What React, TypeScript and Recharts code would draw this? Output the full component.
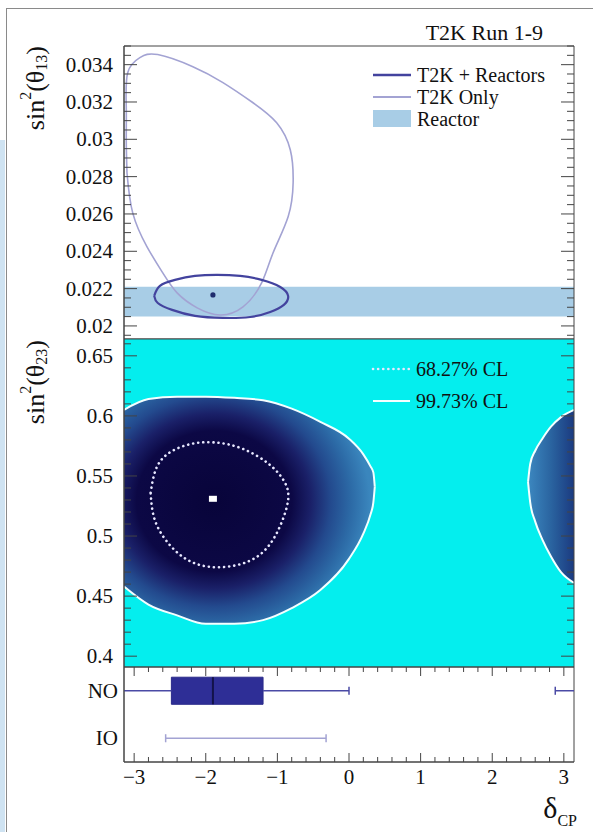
import React from "react"
import {
  ComposedChart,
  Line,
  Area,
  Scatter,
  XAxis,
  YAxis,
  CartesianGrid,
  ReferenceLine,
  ReferenceArea,
} from "recharts"

const PI = Math.PI
const FONT = '"Liberation Serif", "Times New Roman", serif'

// delta_CP axis (shared by the three pads)
const deltaTicks = [-3, -2, -1, 0, 1, 2, 3]

// top pad: sin^2(theta13)
const th13Ticks = [0.02, 0.022, 0.024, 0.026, 0.028, 0.03, 0.032, 0.034]
const t2kOnlyDelta = [-3.1, -3.02, -2.82, -2.6, -2.4, -2.12, -1.8, -1.48, -1.22, -1.06, -0.85, -0.78, -0.82, -1.01, -1.34, -1.76, -2.18, -2.67, -2.92, -3.09, -3.11, -3.11, -3.1]
const t2kOnlyTh13 = [0.02821, 0.02606, 0.02424, 0.02284, 0.02177, 0.02097, 0.02059, 0.02102, 0.02231, 0.02392, 0.02585, 0.02767, 0.02944, 0.03089, 0.03196, 0.03304, 0.03389, 0.03454, 0.03438, 0.03357, 0.03175, 0.02998, 0.02821]
const combinedDelta = [-2.72, -2.64, -2.43, -2.15, -1.84, -1.52, -1.22, -0.96, -0.85, -0.91, -1.1, -1.38, -1.76, -2.15, -2.47, -2.67, -2.72]
const combinedTh13 = [0.02161, 0.02215, 0.02247, 0.02268, 0.02274, 0.02268, 0.02247, 0.02209, 0.02161, 0.02113, 0.02075, 0.02048, 0.02043, 0.02054, 0.02086, 0.02123, 0.02161]
const bestFit13 = [{ x: -1.9, y: 0.02166 }]
const reactorBand = [0.0205, 0.0221]

// middle pad: sin^2(theta23)
const th23Ticks = [0.4, 0.45, 0.5, 0.55, 0.6, 0.65]
const blobDelta = [-3.1416, -2.8, -2.4, -2.0, -1.6, -1.2, -0.8, -0.4, 0.0, 0.2, 0.3, 0.34, 0.36]
const blobHigh = [0.605, 0.614, 0.616, 0.616, 0.615, 0.613, 0.606, 0.595, 0.581, 0.568, 0.558, 0.553, 0.541]
const blobLow = [0.458, 0.443, 0.434, 0.427, 0.427, 0.43, 0.44, 0.455, 0.481, 0.502, 0.518, 0.528, 0.541]
const wrapDelta = [2.5, 2.53, 2.6, 2.7, 2.82, 2.96, 3.1416]
const wrapHigh = [0.545, 0.56, 0.571, 0.581, 0.591, 0.599, 0.605]
const wrapLow = [0.545, 0.528, 0.512, 0.497, 0.483, 0.47, 0.461]
const cl68Delta = [-2.77, -2.7, -2.54, -2.25, -1.9, -1.5, -1.12, -0.9, -0.85, -0.95, -1.12, -1.4, -1.84, -2.25, -2.55, -2.72, -2.77]
const cl68Th23 = [0.536, 0.555, 0.568, 0.576, 0.578, 0.573, 0.56, 0.545, 0.53, 0.51, 0.492, 0.479, 0.474, 0.48, 0.496, 0.515, 0.536]
const bestFit23 = [{ x: -1.9, y: 0.531 }]

// bottom pad: 1D intervals per mass ordering
const orderLabels = ["NO", "IO"]
const orderPos = [1.5, 0.5]
const noBox = [-2.48, -1.9, -1.2] // q1, median, q3
const noWhisker = [-PI, 0.0]
const noWrap = [2.88, PI]
const ioWhisker = [-2.56, -0.32]

const C_COMB = "#43439e"
const C_ONLY = "#a3a3d3"
const C_REACT = "#a8cde6"
const CYAN = "#04eeee"
const AX = "#444"
const PLOT_W = 450

const zip = (xs: number[], ys: number[]) => xs.map((x, i) => ({ x, y: ys[i] }))
const steps = (from: number, to: number, step: number) => {
  const out: number[] = []
  const n = Math.round((to - from) / step)
  for (let i = 0; i <= n; i++) out.push(+(from + i * step).toFixed(6))
  return out
}
const fmt = (v: number) => String(v).replace("-", "\u2212")
const isMajor = (majors: number[], v: number) => majors.some((m) => Math.abs(m - v) < 1e-9)

const xAll = steps(-3, 3, 0.2)
const th13All = steps(0.0195, 0.035, 0.0005)
const th23All = steps(0.4, 0.66, 0.01)

const topRows = [
  { x: -PI, band: reactorBand },
  { x: PI, band: reactorBand },
]
const midRows = [
  ...blobDelta.map((x, i) => ({ x, left: [blobLow[i], blobHigh[i]] })),
  ...wrapDelta.map((x, i) => ({ x, right: [wrapLow[i], wrapHigh[i]] })),
]

// x ticks: drawn on the bottom edge and mirrored on the top edge (ROOT style, inward)
function xTick(plotH: number, labels: boolean) {
  return (p: any) => {
    const v = p.payload.value
    const len = isMajor(deltaTicks, v) ? 9 : 5
    const { x, y } = p
    return (
      <g>
        <line x1={x} y1={y} x2={x} y2={y - len} stroke={AX} />
        <line x1={x} y1={y - plotH} x2={x} y2={y - plotH + len} stroke={AX} />
        {labels && isMajor(deltaTicks, v) && (
          <text x={x} y={y + 15} textAnchor="middle" dominantBaseline="central" fontSize={21} fontFamily={FONT} fill="#111">{fmt(v)}</text>
        )}
      </g>
    )
  }
}

// y ticks: drawn on the left edge and mirrored on the right edge
function yTick(majors: number[], majorLen: number, minorLen: number, mirror: boolean, label: (v: number) => string, gap: number) {
  return (p: any) => {
    const v = p.payload.value
    const major = isMajor(majors, v)
    const len = major ? majorLen : minorLen
    const { x, y } = p
    return (
      <g>
        {len > 0 && <line x1={x} y1={y} x2={x + len} y2={y} stroke={AX} />}
        {len > 0 && mirror && <line x1={x + PLOT_W} y1={y} x2={x + PLOT_W - len} y2={y} stroke={AX} />}
        {major && (
          <text x={x - gap} y={y} textAnchor="end" dominantBaseline="central" fontSize={21} fontFamily={FONT} fill="#111">{label(v)}</text>
        )}
      </g>
    )
  }
}

type FrameOpts = {
  plotH: number
  yDomain: [number, number]
  yTicks: number[]
  yMajor: number[]
  yLabel?: (v: number) => string
  yMajorLen: number
  yMinorLen: number
  yGap?: number
  mirrorY: boolean
  xLabels: boolean
  bottomHeight: number
}

function frameAxes(o: FrameOpts) {
  return [
    <XAxis key="xb" type="number" dataKey="x" domain={[-PI, PI]} allowDataOverflow ticks={xAll} interval={0}
      tickSize={0} tickMargin={0} tickLine={false} axisLine={{ stroke: AX }} height={o.bottomHeight}
      tick={xTick(o.plotH, o.xLabels)} />,
    <YAxis key="yl" type="number" domain={o.yDomain} allowDataOverflow ticks={o.yTicks} interval={0}
      tickSize={0} tickMargin={0} tickLine={false} axisLine={{ stroke: AX }} width={100}
      tick={yTick(o.yMajor, o.yMajorLen, o.yMinorLen, o.mirrorY, o.yLabel ?? fmt, o.yGap ?? 11)} />,
    <ReferenceArea key="frame" x1={-PI} x2={PI} y1={o.yDomain[0]} y2={o.yDomain[1]} fill="none" fillOpacity={0} stroke={AX} strokeWidth={1} />,
  ]
}

const noop = () => <g />

export default function App() {
  const [q1, med, q3] = noBox
  const noY = orderPos[0]
  const ioY = orderPos[1]
  const boxH = 0.285
  const capH = 0.085
  return (
    <div style={{ position: "absolute", left: 0, top: 0, width: 593, height: 832, background: "#fff", overflow: "hidden", fontFamily: FONT }}>
      <svg width={593} height={832} style={{ position: "absolute", left: 0, top: 0 }}>
        <rect x={0} y={140} width={5} height={692} fill="#cfe3f2" />
        <line x1={6.5} y1={8} x2={6.5} y2={832} stroke="#8a8a8a" />
        <line x1={6} y1={8.5} x2={593} y2={8.5} stroke="#8a8a8a" />
      </svg>

      {/* top pad */}
      <div style={{ position: "absolute", left: 0, top: 0 }}>
        <ComposedChart width={593} height={345} data={topRows} margin={{ top: 46, right: 19, bottom: 6, left: 24 }}>
          <Area dataKey="band" type="linear" fill={C_REACT} fillOpacity={1} stroke="none" isAnimationActive={false} />
          <Line data={zip(t2kOnlyDelta, t2kOnlyTh13)} dataKey="y" type="natural" stroke={C_ONLY} strokeWidth={1.6} dot={false} activeDot={false} isAnimationActive={false} />
          <Line data={zip(combinedDelta, combinedTh13)} dataKey="y" type="natural" stroke={C_COMB} strokeWidth={2.2} dot={false} activeDot={false} isAnimationActive={false} />
          <Scatter data={bestFit13} dataKey="y" isAnimationActive={false}
            shape={(p: any) => <circle cx={p.cx} cy={p.cy} r={2.6} fill="#1f2d6e" />} />
          {frameAxes({
            plotH: 293, yDomain: [0.0193, 0.035], yTicks: th13All, yMajor: th13Ticks, yMajorLen: 13, yMinorLen: 7,
            mirrorY: true, xLabels: false, bottomHeight: 0,
          })}
        </ComposedChart>
      </div>

      {/* middle pad */}
      <div style={{ position: "absolute", left: 0, top: 330 }}>
        <ComposedChart width={593} height={345} data={midRows} margin={{ top: 9, right: 19, bottom: 8, left: 24 }}>
          <defs>
            <radialGradient id="blobGrad" cx={0.36} cy={0.46} r={0.62}>
              <stop offset="0" stopColor="#08043a" />
              <stop offset="0.5" stopColor="#0c0845" />
              <stop offset="0.62" stopColor="#1a2068" />
              <stop offset="0.75" stopColor="#234a8e" />
              <stop offset="0.88" stopColor="#2c6aa6" />
              <stop offset="1" stopColor="#3a86bd" />
            </radialGradient>
            <linearGradient id="wrapGrad" x1={0} y1={0} x2={1} y2={0}>
              <stop offset="0" stopColor="#3c88c0" />
              <stop offset="0.5" stopColor="#2a64a0" />
              <stop offset="1" stopColor="#1b3a80" />
            </linearGradient>
          </defs>
          <CartesianGrid horizontal={false} vertical={false} fill={CYAN} fillOpacity={1} />
          <Area dataKey="left" type="monotone" fill="url(#blobGrad)" fillOpacity={1} stroke="#f4ffff" strokeWidth={2} isAnimationActive={false} />
          <Area dataKey="right" type="monotone" fill="url(#wrapGrad)" fillOpacity={1} stroke="#f4ffff" strokeWidth={2} isAnimationActive={false} />
          <Line data={zip(cl68Delta, cl68Th23)} dataKey="y" type="natural" stroke="#e8e8ff" strokeWidth={2.6}
            strokeDasharray="0.1 5" strokeLinecap="round" dot={false} activeDot={false} isAnimationActive={false} />
          <Scatter data={bestFit23} dataKey="y" isAnimationActive={false}
            shape={(p: any) => <rect x={p.cx - 4} y={p.cy - 3} width={8} height={6} fill="#fff" />} />
          {frameAxes({
            plotH: 328, yDomain: [0.391, 0.664], yTicks: th23All, yMajor: th23Ticks, yMajorLen: 13, yMinorLen: 7,
            mirrorY: true, xLabels: false, bottomHeight: 0,
          })}
        </ComposedChart>
      </div>

      {/* bottom pad */}
      <div style={{ position: "absolute", left: 0, top: 660 }}>
        <ComposedChart width={593} height={172} data={topRows} margin={{ top: 7, right: 19, bottom: 30, left: 24 }}>
          <Scatter data={[]} dataKey="y" shape={noop} isAnimationActive={false} />
          <ReferenceLine segment={[{ x: noWhisker[0], y: noY }, { x: q1, y: noY }]} stroke="#4a4aa5" strokeWidth={1.5} />
          <ReferenceLine segment={[{ x: q3, y: noY }, { x: noWhisker[1], y: noY }]} stroke="#4a4aa5" strokeWidth={1.5} />
          <ReferenceLine segment={[{ x: noWhisker[1], y: noY - capH }, { x: noWhisker[1], y: noY + capH }]} stroke="#4a4aa5" strokeWidth={1.5} />
          <ReferenceLine segment={[{ x: noWrap[0], y: noY }, { x: noWrap[1], y: noY }]} stroke="#4a4aa5" strokeWidth={1.5} />
          <ReferenceLine segment={[{ x: noWrap[0], y: noY - capH }, { x: noWrap[0], y: noY + capH }]} stroke="#4a4aa5" strokeWidth={1.5} />
          <ReferenceArea x1={q1} x2={q3} y1={noY - boxH} y2={noY + boxH} fill="#2e2e96" fillOpacity={1} stroke="#2a2a8a" />
          <ReferenceLine segment={[{ x: med, y: noY - boxH }, { x: med, y: noY + boxH }]} stroke="#13134a" strokeWidth={2} />
          <ReferenceLine segment={[{ x: ioWhisker[0], y: ioY }, { x: ioWhisker[1], y: ioY }]} stroke={C_ONLY} strokeWidth={1.5} />
          <ReferenceLine segment={[{ x: ioWhisker[0], y: ioY - capH }, { x: ioWhisker[0], y: ioY + capH }]} stroke={C_ONLY} strokeWidth={1.5} />
          <ReferenceLine segment={[{ x: ioWhisker[1], y: ioY - capH }, { x: ioWhisker[1], y: ioY + capH }]} stroke={C_ONLY} strokeWidth={1.5} />
          {frameAxes({
            plotH: 95, yDomain: [0, 2], yTicks: orderPos, yMajor: orderPos, yMajorLen: 0, yMinorLen: 0,
            yLabel: (v) => orderLabels[orderPos.indexOf(v)] ?? "", yGap: 6,
            mirrorY: false, xLabels: true, bottomHeight: 40,
          })}
        </ComposedChart>
      </div>

      {/* titles and legends */}
      <svg width={593} height={832} style={{ position: "absolute", left: 0, top: 0, pointerEvents: "none" }} fontFamily={FONT} fill="#111">
        <text x={543} y={32} textAnchor="end" dominantBaseline="central" fontSize={22}>T2K Run 1-9</text>

        <line x1={373} y1={75} x2={411} y2={75} stroke={C_COMB} strokeWidth={2.5} />
        <text x={417} y={75} dominantBaseline="central" fontSize={20}>T2K + Reactors</text>
        <line x1={373} y1={97} x2={411} y2={97} stroke={C_ONLY} strokeWidth={2} />
        <text x={417} y={97} dominantBaseline="central" fontSize={20}>T2K Only</text>
        <rect x={373} y={110} width={38} height={17} fill={C_REACT} />
        <text x={417} y={119} dominantBaseline="central" fontSize={20}>Reactor</text>

        <line x1={373} y1={369} x2={410} y2={369} stroke="#e8e8ff" strokeWidth={2.6} strokeDasharray="0.1 5" strokeLinecap="round" />
        <text x={416} y={369} dominantBaseline="central" fontSize={20}>68.27% CL</text>
        <line x1={373} y1={401} x2={410} y2={401} stroke="#f4ffff" strokeWidth={2} />
        <text x={416} y={401} dominantBaseline="central" fontSize={20}>99.73% CL</text>

        <text transform="rotate(-90 35 46)" x={35} y={46} textAnchor="end" dominantBaseline="central" fontSize={26}>
          sin<tspan dy={-10} fontSize={16}>2</tspan><tspan dy={10}>(θ</tspan><tspan dy={6} fontSize={16}>13</tspan><tspan dy={-6}>)</tspan>
        </text>
        <text transform="rotate(-90 35 340)" x={35} y={340} textAnchor="end" dominantBaseline="central" fontSize={26}>
          sin<tspan dy={-10} fontSize={16}>2</tspan><tspan dy={10}>(θ</tspan><tspan dy={6} fontSize={16}>23</tspan><tspan dy={-6}>)</tspan>
        </text>

        <text x={577} y={818} textAnchor="end" fontSize={30}>
          δ<tspan fontSize={16} dy={8}>CP</tspan>
        </text>
      </svg>
    </div>
  )
}
